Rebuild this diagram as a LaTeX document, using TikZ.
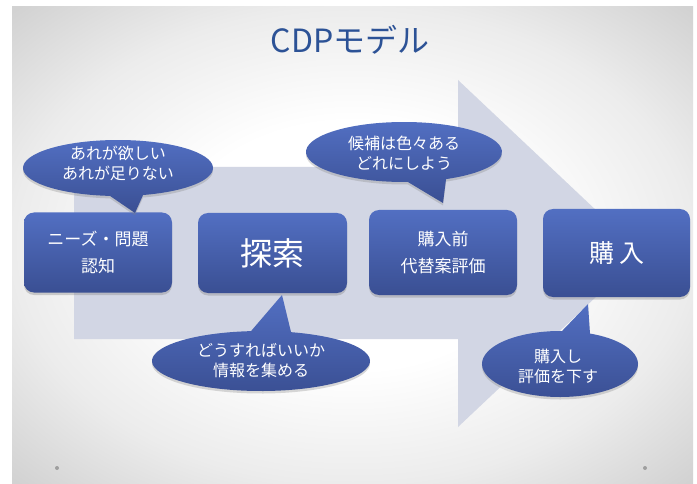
\documentclass[tikz,border=0pt]{standalone}
\usepackage{fontspec}
\setmainfont{Noto Sans CJK JP}
\usetikzlibrary{shadows}
\definecolor{bluetop}{RGB}{82,111,194}
\definecolor{bluebot}{RGB}{58,79,147}
\definecolor{arrowc}{RGB}{210,214,228}
\definecolor{titlec}{RGB}{44,82,150}
\definecolor{slidemid}{RGB}{236,236,236}
\definecolor{slideout}{RGB}{210,210,210}
\pgfdeclareradialshading{slidebg}{\pgfpoint{0bp}{0bp}}{color(0bp)=(white); color(13bp)=(white); color(25bp)=(slidemid); color(35bp)=(slideout); color(50bp)=(slideout)}
\newcommand\mycallout[7]{%
  \begin{scope}[shift={(#1,#2)}]
    \shade[callout] (#5:#3 and #4) arc[start angle=#5, end angle=#6, x radius=#3, y radius=#4] -- (#7) -- cycle;
  \end{scope}}
\begin{document}
\begin{tikzpicture}[x=1pt,y=-1pt,
  box/.style={rounded corners=10pt, top color=bluetop, bottom color=bluebot,
    drop shadow={shadow xshift=0pt, shadow yshift=-2.5pt, opacity=0.35},
    text=white, align=center, inner sep=0pt},
  callout/.style={top color=bluetop, bottom color=bluebot,
    drop shadow={shadow xshift=0pt, shadow yshift=-2.5pt, opacity=0.3}},
  boxtext/.style={font=\fontsize{17}{27}\selectfont},
  ctext/.style={text=white, align=center, inner sep=0pt, font=\fontsize{16}{20}\selectfont},
  dot/.style={fill=gray!75}
]
\useasboundingbox (0,0) rectangle (697,484);
\fill[white] (0,0) rectangle (697,484);
\shade[shading=slidebg] (12,7) rectangle (693,484);

% title
\node[text=titlec, font=\fontsize{32}{36}\selectfont] (title) at (350,40) {CDPモデル};

% big arrow
\fill[arrowc] (74,167) -- (458,167) -- (458,80) -- (642,253.5) -- (458,427) -- (458,339) -- (74,339) -- cycle;

% boxes
\node[box, boxtext, minimum width=148pt, minimum height=80pt] (b1) at (98,252.5) {ニーズ・問題\\認知};
\node[box, minimum width=149pt, minimum height=80pt, font=\fontsize{32}{36}\selectfont] (b2) at (272.5,253) {探索};
\node[box, boxtext, minimum width=148pt, minimum height=85pt] (b3) at (443,252.5) {購入前\\代替案評価};
\node[box, minimum width=147pt, minimum height=88pt, font=\fontsize{25}{30}\selectfont] (b4) at (616.5,253) {購\hspace{5pt}入};

% callout tips
\coordinate (t1) at (135,213);
\coordinate (t2) at (443,203);
\coordinate (t3) at (282,295);
\coordinate (t4) at (588,304);

\mycallout{118}{168}{95}{28}{94.83}{434.7}{t1}
\mycallout{404}{152}{98}{30}{87.7}{424.6}{t2}
\mycallout{261}{361}{109}{30}{286.0}{624.74}{t3}
\mycallout{560}{364}{78}{33}{292.6}{631.5}{t4}

\node[ctext] (c1) at (118,163) {あれが欲しい\\あれが足りない};
\node[ctext] (c2) at (404,153) {候補は色々ある\\どれにしよう};
\node[ctext] (c3) at (261,361) {どうすればいいか\\情報を集める};
\node[ctext] (c4) at (558,366) {購入し\\評価を下す};

% corner dots
\fill[dot] (57,468) circle (2);
\fill[dot] (645,468) circle (2);
\end{tikzpicture}
\end{document}
